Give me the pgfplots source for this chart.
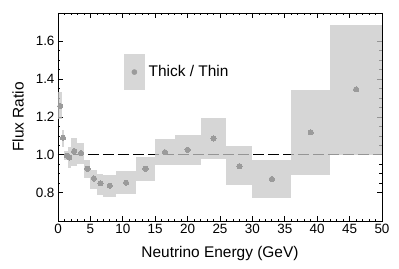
\documentclass[border=0pt]{standalone}
\usepackage{pgfplots}
\pgfplotsset{compat=1.18}
\usepackage{fontspec}
\setmainfont{Liberation Sans}
\definecolor{boxfill}{RGB}{200,200,200}
\definecolor{legfill}{RGB}{215,215,215}
\definecolor{ptcol}{RGB}{155,155,155}
\begin{document}
\begin{tikzpicture}
\begin{axis}[
  at={(0,0)}, anchor=south west,
  scale only axis, width=324bp, height=208bp,
  xmin=0, xmax=50, ymin=0.65, ymax=1.75,
  xtick={0,5,...,50}, minor x tick num=4,
  ytick={0.8,1.0,1.2,1.4,1.6}, minor y tick num=3,
  yticklabel style={/pgf/number format/.cd, fixed, fixed zerofill, precision=1},
  /pgf/number format/assume math mode=true,
  tick align=inside, axis line style={line width=1pt},
  major tick length=5bp, minor tick length=2.5bp,
  every tick/.style={black, line width=0.7pt},
  tick label style={font=\fontsize{13.5}{16}\selectfont},
  label style={font=\fontsize{15.5}{18}\selectfont},
  xlabel={Neutrino Energy (GeV)}, ylabel={Flux Ratio},
  xlabel style={at={(axis description cs:0.5,-0.155)}, anchor=center},
  ylabel style={at={(axis description cs:-0.123,0.5)}, anchor=center},
  legend style={draw=none, fill=none, at={(rel axis cs:0.2037,0.716)}, anchor=west,
    font=\fontsize{15.5}{18}\selectfont, inner sep=0pt, column sep=4bp,
    nodes={inner sep=0pt}},
  legend cell align=left,
]
\addplot[black, line width=1.2pt, dash pattern=on 11bp off 4bp, forget plot] coordinates {(0,1) (50,1)};
\pgfplotsset{boxst/.style={fill=boxfill, draw=none, fill opacity=0.75, forget plot}}
\addplot[boxst] coordinates {(0,1.19) (0.6,1.19) (0.6,1.33) (0,1.33)} -- cycle;
\addplot[boxst] coordinates {(0.6,1.04) (1.0,1.04) (1.0,1.13) (0.6,1.13)} -- cycle;
\addplot[boxst] coordinates {(1.0,0.97) (1.5,0.97) (1.5,1.02) (1.0,1.02)} -- cycle;
\addplot[boxst] coordinates {(1.5,0.93) (2.0,0.93) (2.0,1.04) (1.5,1.04)} -- cycle;
\addplot[boxst] coordinates {(2.0,0.94) (3.0,0.94) (3.0,1.09) (2.0,1.09)} -- cycle;
\addplot[boxst] coordinates {(3.0,0.95) (4.0,0.95) (4.0,1.06) (3.0,1.06)} -- cycle;
\addplot[boxst] coordinates {(4.0,0.88) (5.0,0.88) (5.0,0.97) (4.0,0.97)} -- cycle;
\addplot[boxst] coordinates {(5.0,0.82) (6.0,0.82) (6.0,0.92) (5.0,0.92)} -- cycle;
\addplot[boxst] coordinates {(6.0,0.79) (7.0,0.79) (7.0,0.90) (6.0,0.90)} -- cycle;
\addplot[boxst] coordinates {(7.0,0.775) (9.0,0.775) (9.0,0.895) (7.0,0.895)} -- cycle;
\addplot[boxst] coordinates {(9.0,0.795) (12.0,0.795) (12.0,0.912) (9.0,0.912)} -- cycle;
\addplot[boxst] coordinates {(12.0,0.863) (15.0,0.863) (15.0,0.991) (12.0,0.991)} -- cycle;
\addplot[boxst] coordinates {(15.0,0.944) (18.0,0.944) (18.0,1.083) (15.0,1.083)} -- cycle;
\addplot[boxst] coordinates {(18.0,0.947) (22.0,0.947) (22.0,1.105) (18.0,1.105)} -- cycle;
\addplot[boxst] coordinates {(22.0,0.977) (26.0,0.977) (26.0,1.196) (22.0,1.196)} -- cycle;
\addplot[boxst] coordinates {(26.0,0.838) (30.0,0.838) (30.0,1.044) (26.0,1.044)} -- cycle;
\addplot[boxst] coordinates {(30.0,0.77) (36.0,0.77) (36.0,0.974) (30.0,0.974)} -- cycle;
\addplot[boxst] coordinates {(36.0,0.895) (42.0,0.895) (42.0,1.342) (36.0,1.342)} -- cycle;
\addplot[boxst] coordinates {(42.0,1.0) (50.0,1.0) (50.0,1.684) (42.0,1.684)} -- cycle;
\addplot[ptcol, only marks, mark=*, mark size=2.6bp, mark options={fill=ptcol, draw=ptcol, line width=0pt},
  legend image code/.code={\fill[legfill] (-10bp,-17.5bp) rectangle (10bp,17.5bp); \fill[ptcol] (0,0) circle (2.6bp);}]
 coordinates {(0.35,1.258) (0.77,1.09) (1.4,0.995) (1.75,0.986) (2.5,1.02) (3.55,1.009) (4.55,0.926) (5.55,0.875) (6.55,0.849) (8.0,0.837) (10.5,0.853) (13.5,0.926) (16.5,1.014) (20.0,1.026) (24.0,1.086) (28.0,0.94) (33.0,0.872) (39.0,1.119) (46.0,1.346)};
\addlegendentry{Thick / Thin}
\end{axis}
\pgfresetboundingbox
\useasboundingbox (-58bp,-48bp) rectangle (341bp,221bp);
\end{tikzpicture}
\end{document}
